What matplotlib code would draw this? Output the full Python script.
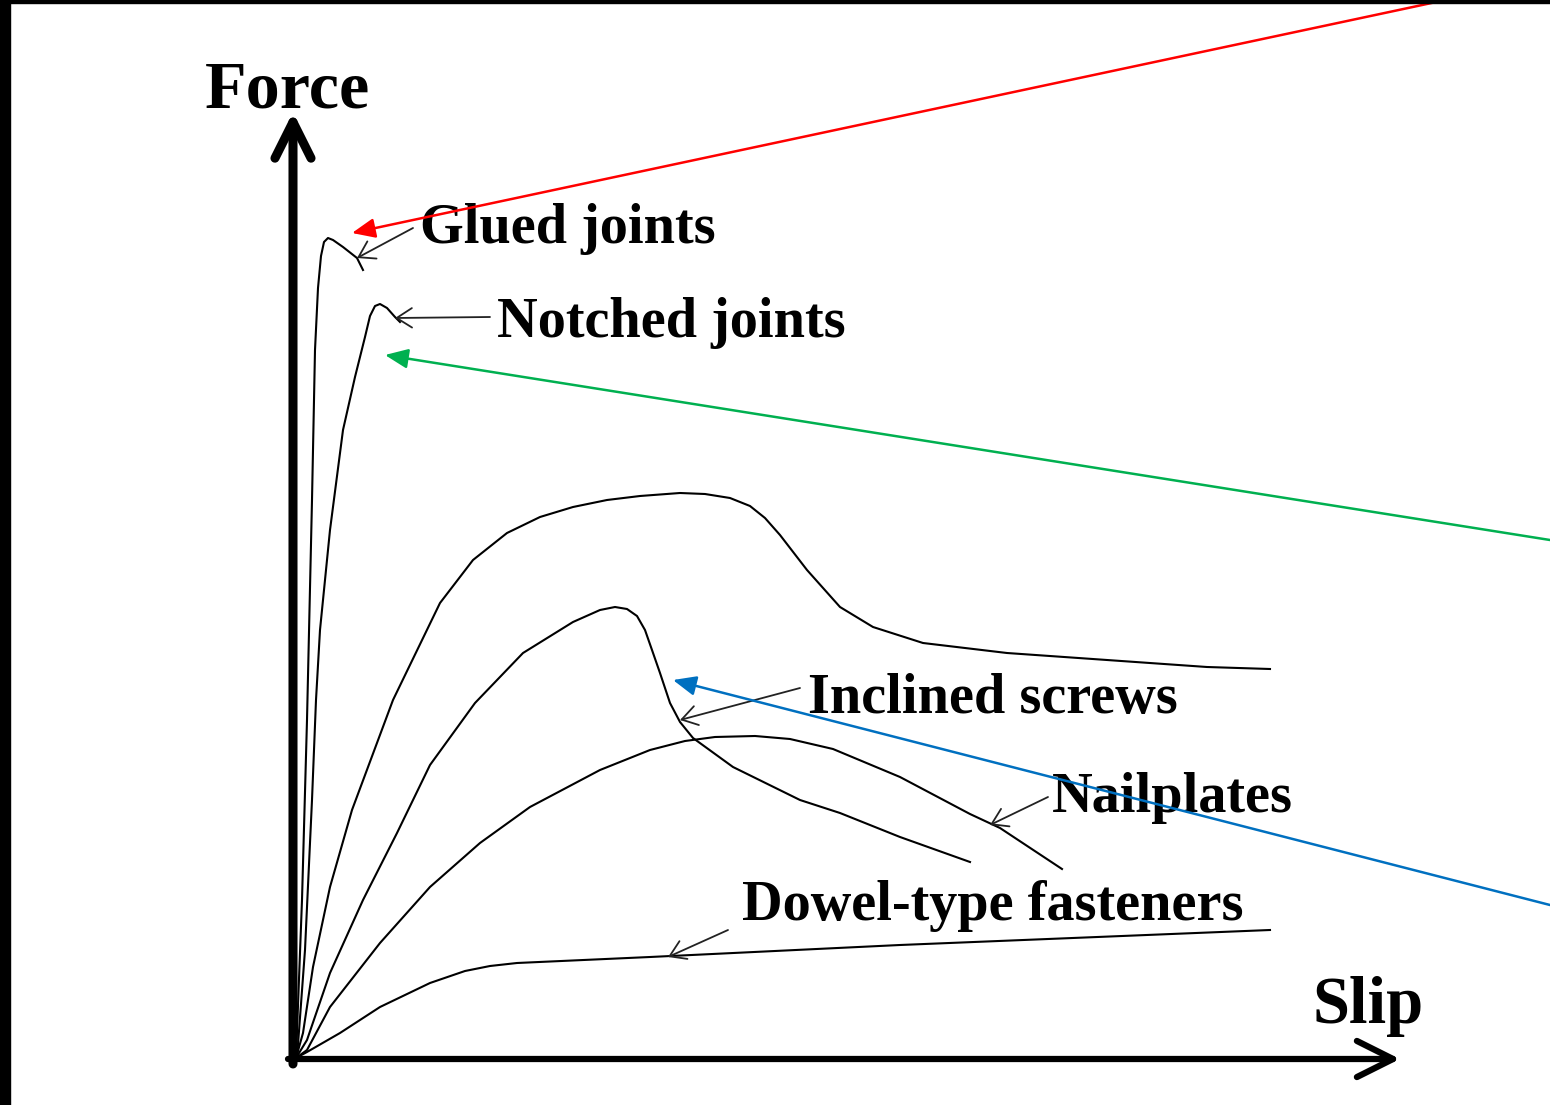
import matplotlib.pyplot as plt
from matplotlib.patches import Rectangle

# force-slip curves (slip, force)
glued_slip = [0.01, 0.07, 0.12, 0.17, 0.20, 0.23, 0.26, 0.29, 0.33, 0.38, 0.48, 0.62, 0.68]
glued_force = [0, 1.58, 3.38, 5.58, 7.08, 7.70, 8.02, 8.16, 8.20, 8.18, 8.11, 8.00, 7.88]

notched_slip = [0.02, 0.10, 0.17, 0.21, 0.25, 0.35, 0.48, 0.60, 0.70, 0.75, 0.80, 0.85,
                0.92, 1.00, 1.05]
notched_force = [0, 1.08, 2.58, 3.58, 4.28, 5.28, 6.28, 6.81, 7.21, 7.42, 7.52, 7.54,
                 7.50, 7.41, 7.36]

top_slip = [0.01, 0.08, 0.18, 0.35, 0.57, 0.98, 1.45, 1.78, 2.12, 2.45, 2.78, 3.12, 3.45,
            3.85, 4.10, 4.35, 4.55, 4.70, 4.85, 5.12, 5.45, 5.78, 6.28, 7.12, 8.12, 9.12, 9.75]
top_force = [0, 0.25, 0.91, 1.71, 2.48, 3.58, 4.55, 4.98, 5.25, 5.41, 5.51, 5.58, 5.62,
             5.65, 5.64, 5.60, 5.52, 5.40, 5.23, 4.88, 4.51, 4.31, 4.15, 4.05, 3.98, 3.91, 3.89]

screws_slip = [0.01, 0.12, 0.35, 0.68, 1.02, 1.35, 1.80, 2.28, 2.78, 3.05, 3.20, 3.32,
               3.42, 3.50, 3.57, 3.65, 3.75, 3.85, 3.98, 4.38, 5.05, 5.45, 6.05, 6.75]
screws_force = [0, 0.18, 0.85, 1.58, 2.25, 2.93, 3.55, 4.05, 4.36, 4.48, 4.51, 4.49,
                4.42, 4.28, 4.08, 3.85, 3.55, 3.36, 3.20, 2.91, 2.58, 2.45, 2.21, 1.96]

nail_slip = [0.01, 0.12, 0.35, 0.85, 1.35, 1.85, 2.35, 3.05, 3.55, 3.90, 4.20, 4.60,
             4.95, 5.38, 6.05, 6.75, 7.05, 7.67]
nail_force = [0, 0.08, 0.51, 1.15, 1.71, 2.15, 2.51, 2.88, 3.08, 3.17, 3.21, 3.22,
              3.19, 3.09, 2.81, 2.44, 2.30, 1.89]

dowel_slip = [0.01, 0.12, 0.45, 0.85, 1.35, 1.70, 1.95, 2.22, 3.55, 6.05, 9.75]
dowel_force = [0, 0.06, 0.25, 0.51, 0.75, 0.87, 0.92, 0.95, 1.01, 1.13, 1.28]

# labels: text, text position, arrow start, arrow tip
labels = ["Glued joints", "Notched joints", "Inclined screws", "Nailplates", "Dowel-type fasteners"]
label_pos = [(1.25, 8.15), (2.02, 7.21), (5.13, 3.45), (7.57, 2.46), (4.47, 1.38)]
arrow_from = [(1.18, 8.30), (1.95, 7.41), (5.05, 3.70), (7.53, 2.61), (4.33, 1.28)]
arrow_to = [(0.62, 8.00), (1.00, 7.40), (3.85, 3.38), (6.95, 2.33), (3.73, 1.01)]

# coloured pointer arrows
col_from = [(11.60, 10.60), (12.55, 5.18), (12.55, 1.53)]
col_to = [(0.57, 8.25), (0.90, 7.03), (3.78, 3.78)]
col_colors = ["#ff0000", "#00b050", "#0070c0"]

fig = plt.figure(figsize=(15.5, 11.05), dpi=100)
ax = fig.add_axes([0, 0, 1, 1])
ax.set_xlim(-2.95, 12.55)
ax.set_ylim(-0.47, 10.58)
ax.axis("off")

serif = {"family": "Liberation Serif", "weight": "bold"}

for xs, ys in [(glued_slip, glued_force), (notched_slip, notched_force),
               (top_slip, top_force), (screws_slip, screws_force),
               (nail_slip, nail_force), (dowel_slip, dowel_force)]:
    ax.plot(xs, ys, color="black", lw=1.5, solid_joinstyle="round")

# axes arrows
ax.annotate("", xy=(-0.02, 9.46), xytext=(-0.02, -0.06),
            arrowprops=dict(arrowstyle="->,head_length=1.3,head_width=0.65",
                            mutation_scale=20, lw=6.5, color="black",
                            shrinkA=0, shrinkB=0))
ax.annotate("", xy=(11.05, -0.01), xytext=(-0.07, -0.01),
            arrowprops=dict(arrowstyle="->,head_length=1.3,head_width=0.65",
                            mutation_scale=20, lw=4.5, color="black",
                            shrinkA=0, shrinkB=0))
ax.text(-0.90, 9.50, "Force", fontsize=49, ha="left", va="baseline", **serif)
ax.text(10.17, 0.35, "Slip", fontsize=48, ha="left", va="baseline", **serif)

for lab, pos, a0, a1 in zip(labels, label_pos, arrow_from, arrow_to):
    ax.text(pos[0], pos[1], lab, fontsize=40.5, ha="left", va="baseline", **serif)
    ax.annotate("", xy=a1, xytext=a0,
                arrowprops=dict(arrowstyle="->,head_length=1.1,head_width=0.7",
                                mutation_scale=10, lw=1.3, color="#222222",
                                shrinkA=0, shrinkB=0))

for a0, a1, c in zip(col_from, col_to, col_colors):
    ax.annotate("", xy=a1, xytext=a0, annotation_clip=False,
                arrowprops=dict(arrowstyle="-|>,head_length=1.4,head_width=0.6",
                                mutation_scale=10, lw=1.8, color=c,
                                shrinkA=0, shrinkB=0))

# black frame strips at left and top
fig.patches.append(Rectangle((0, 0), 10 / 1550, 1, transform=fig.transFigure,
                             color="black", zorder=10))
fig.patches.append(Rectangle((0, 1 - 3 / 1105), 1, 3 / 1105, transform=fig.transFigure,
                             color="black", zorder=10))

fig.savefig("out.png", dpi=100, facecolor="white")
